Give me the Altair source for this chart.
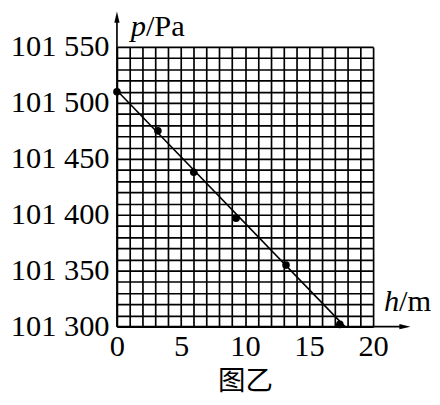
import altair as alt
import pandas as pd

# data
h_points = [0, 3.2, 6.0, 9.3, 13.2, 17.4]
p_points = [101510, 101475, 101438, 101397, 101355, 101302]
line_h = [0, 17.8]
line_p = [101511, 101300]

x_grid_values = list(range(0, 21, 1))
y_grid_values = list(range(101300, 101551, 10))
x_tick_values = [0, 5, 10, 15, 20]
x_tick_labels = ["0", "5", "10", "15", "20"]
y_tick_values = [101300, 101350, 101400, 101450, 101500, 101550]
y_tick_labels = ["101 300", "101 350", "101 400", "101 450", "101 500", "101 550"]

x_title_italic = "h"
x_title_unit = "/m"
y_title_italic = "p"
y_title_unit = "/Pa"
caption = "图乙"

SERIF = "Liberation Serif"
FS = 31


def label_expr(values, labels):
    expr = "''"
    for v, l in reversed(list(zip(values, labels))):
        expr = f"datum.value == {v} ? '{l}' : ({expr})"
    return expr


pts = pd.DataFrame({"h": h_points, "p": p_points})
ln = pd.DataFrame({"h": line_h, "p": line_p})
one = pd.DataFrame({"a": [0]})

xscale = alt.Scale(domain=[0, 20], nice=False, zero=False)
yscale = alt.Scale(domain=[101300, 101550], nice=False, zero=False)

xaxis = alt.Axis(values=x_grid_values, labelExpr=label_expr(x_tick_values, x_tick_labels),
                 grid=True, gridColor="black", gridWidth=1.7, gridOpacity=1,
                 domain=False, ticks=False, labelOverlap=False, labelFlush=False, labelBound=False,
                 labelFont=SERIF, labelFontSize=FS, labelColor="black", labelPadding=5,
                 title=None)
yaxis = alt.Axis(values=y_grid_values, labelExpr=label_expr(y_tick_values, y_tick_labels),
                 grid=True, gridColor="black", gridWidth=1.7, gridOpacity=1,
                 domain=False, ticks=False, labelOverlap=False, labelFlush=False, labelBound=False,
                 labelFont=SERIF, labelFontSize=FS, labelColor="black", labelPadding=8,
                 title=None)

base_line = alt.Chart(ln).mark_line(color="black", strokeWidth=1.6).encode(
    x=alt.X("h:Q", scale=xscale, axis=xaxis),
    y=alt.Y("p:Q", scale=yscale, axis=yaxis),
)
points = alt.Chart(pts).mark_circle(color="black", opacity=1, size=60).encode(
    x=alt.X("h:Q", scale=xscale, axis=xaxis),
    y=alt.Y("p:Q", scale=yscale, axis=yaxis),
)

# axes with arrows
y_arrow_line = alt.Chart(one).mark_rule(color="black", strokeWidth=1.7).encode(
    x=alt.value(0), y=alt.value(285), y2=alt.value(-28))
x_arrow_line = alt.Chart(one).mark_rule(color="black", strokeWidth=1.7).encode(
    x=alt.value(0), x2=alt.value(292), y=alt.value(285))
y_head = alt.Chart(one).mark_point(shape="M0,-1L0.38,0.6L-0.38,0.6Z", filled=True,
                                   color="black", opacity=1, size=200).encode(
    x=alt.value(0), y=alt.value(-29))
x_head = alt.Chart(one).mark_point(shape="M1,0L-0.6,0.38L-0.6,-0.38Z", filled=True,
                                   color="black", opacity=1, size=200).encode(
    x=alt.value(292), y=alt.value(285))

def txt(s, x, y, size, italic=False, align="left", font=SERIF, baseline="alphabetic"):
    return alt.Chart(one).mark_text(text=s, font=font, fontSize=size, color="black",
                                    fontStyle="italic" if italic else "normal",
                                    align=align, baseline=baseline).encode(
        x=alt.value(x), y=alt.value(y))

titles = [
    txt(y_title_italic, 14, -11, 31, italic=True),
    txt(y_title_unit, 29.5, -11, 31),
    txt(x_title_italic, 272, 269, 31, italic=True),
    txt(x_title_unit, 287.5, 269, 31),
    txt(caption, 131, 342, 28, align="center", font="Noto Sans CJK SC", baseline="middle"),
]

chart = alt.layer(base_line, points, y_arrow_line, x_arrow_line, y_head, x_head, *titles).properties(
    width=261, height=285,
    autosize=alt.AutoSizeParams(type="none"),
    padding={"left": 111, "top": 36, "right": 60, "bottom": 68},
).configure_view(stroke="black", strokeWidth=1.7).configure(background="white")

chart.save("out.html", embed_options={"renderer": "svg", "actions": False})
